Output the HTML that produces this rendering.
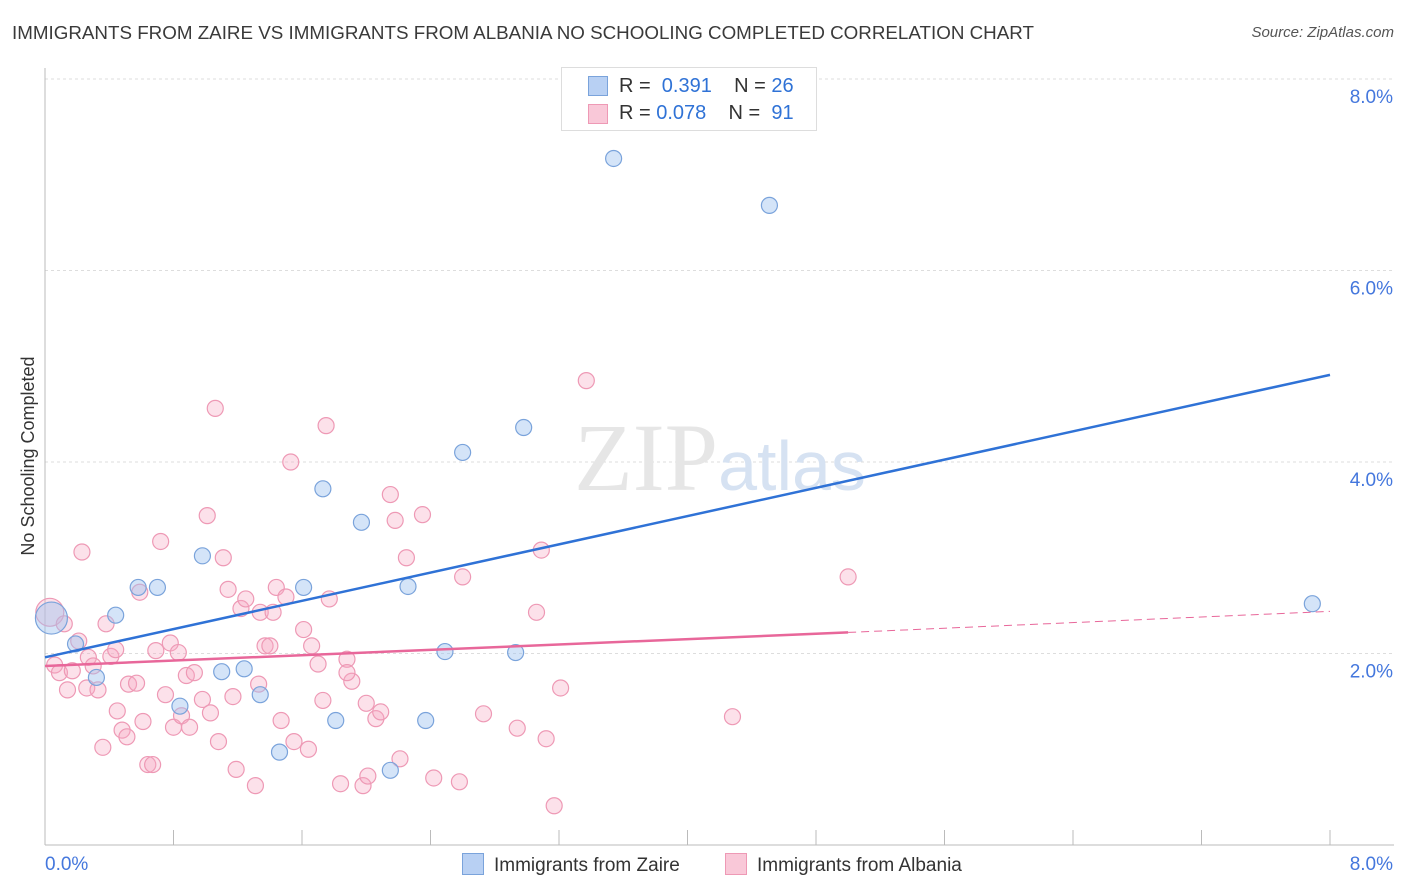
<!DOCTYPE html>
<html><head><meta charset="utf-8"><style>
body{margin:0;background:#fff;font-family:"Liberation Sans",sans-serif;}
#wrap{position:relative;width:1406px;height:892px;overflow:hidden;}
.t{position:absolute;white-space:nowrap;}
</style></head><body>
<div id="wrap">
<div class="t" style="left:12px;top:22px;font-size:18.8px;color:#3a3a3a;">IMMIGRANTS FROM ZAIRE VS IMMIGRANTS FROM ALBANIA NO SCHOOLING COMPLETED CORRELATION CHART</div>
<div class="t" style="right:12px;top:24px;font-size:15px;color:#555;font-style:italic;">Source: ZipAtlas.com</div>
<svg id="svg" width="1406" height="892" style="position:absolute;left:0;top:0"></svg>
</div>
<script>
const yTicks=[2,4,6,8];
const yTickLabels=["2.0%","4.0%","6.0%","8.0%"];
const xTickLabels=["0.0%","8.0%"];
const zaireX=[0.04,0.19,0.32,0.44,0.58,0.70,0.84,0.98,1.10,1.24,1.34,1.46,1.61,1.73,1.81,1.97,2.15,2.26,2.37,2.49,2.60,2.93,2.98,3.54,4.51,7.89];
const zaireY=[2.37,2.10,1.75,2.40,2.69,2.69,1.45,3.02,1.81,1.84,1.57,0.97,2.69,3.72,1.30,3.37,0.78,2.70,1.30,2.02,4.10,2.01,4.36,7.17,6.68,2.52];
const albaniaX=[0.03,0.06,0.09,0.12,0.14,0.17,0.21,0.23,0.26,0.27,0.30,0.33,0.36,0.38,0.41,0.44,0.45,0.48,0.51,0.52,0.57,0.59,0.61,0.64,0.67,0.69,0.72,0.75,0.78,0.80,0.83,0.85,0.88,0.90,0.93,0.98,1.01,1.03,1.06,1.08,1.11,1.14,1.17,1.19,1.22,1.25,1.31,1.33,1.34,1.37,1.40,1.42,1.44,1.47,1.50,1.53,1.55,1.61,1.64,1.66,1.70,1.73,1.75,1.77,1.84,1.88,1.91,1.88,1.98,2.00,2.01,2.06,2.09,2.15,2.18,2.21,2.25,2.35,2.42,2.58,2.60,2.73,2.94,3.06,3.09,3.12,3.17,3.21,3.37,4.28,5.00];
const albaniaY=[2.43,1.88,1.80,2.31,1.62,1.82,2.13,3.06,1.64,1.96,1.87,1.62,1.02,2.31,1.97,2.04,1.40,1.20,1.13,1.68,1.69,2.64,1.29,0.84,0.84,2.03,3.17,1.57,2.11,1.23,2.01,1.35,1.77,1.23,1.80,1.52,3.44,1.38,4.56,1.08,3.00,2.67,1.55,0.79,2.47,2.57,0.62,1.68,2.43,2.08,2.08,2.43,2.69,1.30,2.59,4.00,1.08,2.25,1.00,2.08,1.89,1.51,4.38,2.57,0.64,1.94,1.71,1.80,0.62,1.48,0.72,1.32,1.39,3.66,3.39,0.90,3.00,3.45,0.70,0.66,2.80,1.37,1.22,2.43,3.08,1.11,0.41,1.64,4.85,1.34,2.80];
const zaireTrend=[[0,1.96],[8,4.91]];
const albaniaTrend=[[0,1.87],[5,2.22],[8,2.44]];
const X=v=>45+v/8*1285, Y=v=>845-v*95.75;
const s=document.getElementById('svg'),NS='http://www.w3.org/2000/svg';
function el(t,a,name){const e=document.createElementNS(NS,t);for(const k in a)e.setAttribute(k,a[k]);


s.appendChild(e);return e;}
yTicks.forEach((v,i)=>{el('line',{x1:45,x2:1394,y1:Y(v),y2:Y(v),stroke:'#ddd','stroke-dasharray':'3,3'},'gridline');
const t=el('text',{x:1393,y:Y(v)+24,'text-anchor':'end','font-size':19,fill:'#4477dd','font-family':'Liberation Sans'},'y-tick-label');t.textContent=yTickLabels[i];});
el('line',{x1:45,x2:45,y1:68,y2:845,stroke:'#bbb'},'y-axis');
el('line',{x1:45,x2:1394,y1:845,y2:845,stroke:'#bbb'},'x-axis');
for(let i=0;i<=10;i++)el('line',{x1:X(i*0.8),x2:X(i*0.8),y1:830,y2:845,stroke:'#bbb'},'x-tick');
let t=el('text',{x:45,y:870,'font-size':19,fill:'#4477dd','font-family':'Liberation Sans'},'x-tick-label');t.textContent=xTickLabels[0];
t=el('text',{x:1393,y:870,'text-anchor':'end','font-size':19,fill:'#4477dd','font-family':'Liberation Sans'},'x-tick-label');t.textContent=xTickLabels[1];
t=el('text',{x:34,y:456,'text-anchor':'middle','font-size':18,fill:'#333','font-family':'Liberation Sans',transform:'rotate(-90 34 456)'},'y-axis-title');t.textContent='No Schooling Completed';
t=el('text',{x:720,y:490,'text-anchor':'middle','font-size':96,fill:'#e6e6e6','font-family':'Liberation Serif'},'watermark');t.innerHTML='ZIP<tspan fill="#d6e2f2" font-family="Liberation Sans" font-size="70">atlas</tspan>';
albaniaX.forEach((x,i)=>el('circle',{cx:X(x),cy:Y(albaniaY[i]),r:i==0?14:8,fill:'rgba(246,170,195,0.35)',stroke:'#ee99b5','stroke-width':1.2},'albania-point'));
zaireX.forEach((x,i)=>el('circle',{cx:X(x),cy:Y(zaireY[i]),r:i==0?16:8,fill:'rgba(160,195,240,0.45)',stroke:'#7aa3db','stroke-width':1.2},'zaire-point'));
el('line',{x1:X(zaireTrend[0][0]),y1:Y(zaireTrend[0][1]),x2:X(zaireTrend[1][0]),y2:Y(zaireTrend[1][1]),stroke:'#2f72d6','stroke-width':2.5},'zaire-trendline');
el('line',{x1:X(albaniaTrend[0][0]),y1:Y(albaniaTrend[0][1]),x2:X(albaniaTrend[1][0]),y2:Y(albaniaTrend[1][1]),stroke:'#e8679a','stroke-width':2.5},'albania-trendline');
el('line',{x1:X(albaniaTrend[1][0]),y1:Y(albaniaTrend[1][1]),x2:X(albaniaTrend[2][0]),y2:Y(albaniaTrend[2][1]),stroke:'#e8679a','stroke-width':1,'stroke-dasharray':'8,5'},'albania-trendline-extension');
</script>
<div style="position:absolute;left:561px;top:67px;width:254px;height:62px;border:1px solid #ddd;background:#fff;font-size:20px;color:#333;">
<div style="position:absolute;left:26px;top:8px;width:18px;height:18px;background:#b8d0f3;border:1px solid #7aa3db;"></div>
<div class="t" style="left:57px;top:7px;">R = <span style="color:#2f72d6">&nbsp;0.391</span>&nbsp;&nbsp;&nbsp; N = <span style="color:#2f72d6">26</span></div>
<div style="position:absolute;left:26px;top:36px;width:18px;height:18px;background:#f9c8d8;border:1px solid #ee99b5;"></div>
<div class="t" style="left:57px;top:34px;">R = <span style="color:#2f72d6">0.078</span>&nbsp;&nbsp;&nbsp; N = <span style="color:#2f72d6">&nbsp;91</span></div>
</div>
<div style="position:absolute;left:462px;top:853px;font-size:19px;color:#333;">
<span style="display:inline-block;width:20px;height:20px;background:#b8d0f3;border:1px solid #7aa3db;vertical-align:-4px;margin-right:10px;"></span>Immigrants from Zaire</div>
<div style="position:absolute;left:725px;top:853px;font-size:19px;color:#333;">
<span style="display:inline-block;width:20px;height:20px;background:#f9c8d8;border:1px solid #ee99b5;vertical-align:-4px;margin-right:10px;"></span>Immigrants from Albania</div>
</body></html>
